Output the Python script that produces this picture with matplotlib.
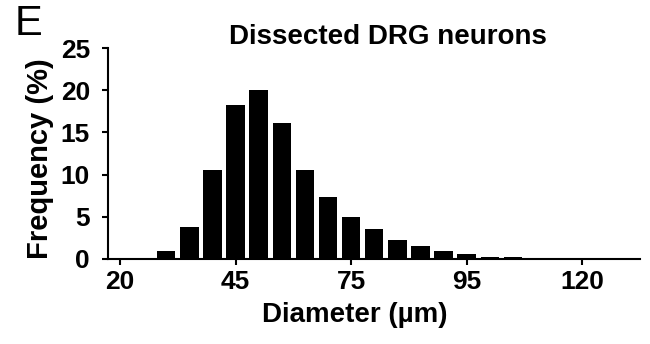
import matplotlib
matplotlib.use("Agg")
import matplotlib.pyplot as plt
import numpy as np

plt.rcParams['font.family'] = ['Liberation Sans', 'DejaVu Sans']

# histogram of soma diameters, one bar per bin
freq = [0.0, 0.15, 0.95, 3.76, 10.6, 18.3, 20.05, 16.1, 10.5, 7.3, 5.0,
        3.57, 2.22, 1.5, 0.9, 0.63, 0.24, 0.24, 0.13, 0.03, 0.03, 0.16]
tick_pos = [0, 5, 10, 15, 20]
tick_labels = ['20', '45', '75', '95', '120']
y_ticks = [0, 5, 10, 15, 20, 25]

fig = plt.figure(figsize=(6.5, 3.44), dpi=100)
ax = fig.add_axes([108 / 650, 1 - 259 / 344, 532 / 650, 211 / 344])

x = np.arange(len(freq))
ax.bar(x, freq, width=0.8, color='black', edgecolor='none')

ax.set_xlim(-0.52, 22.5)
ax.set_ylim(0, 25)
ax.set_xticks(tick_pos)
ax.set_xticklabels(tick_labels)
ax.set_yticks(y_ticks)

for side in ['top', 'right']:
    ax.spines[side].set_visible(False)
for side in ['left', 'bottom']:
    ax.spines[side].set_linewidth(1.5)

ax.tick_params(axis='both', width=1.5, length=4, labelsize=19)
ax.tick_params(axis='x', pad=4)
ax.tick_params(axis='y', pad=9)
for lab in ax.get_xticklabels() + ax.get_yticklabels():
    lab.set_fontweight('bold')

fig.text(40 / 650, 1 - 159 / 344, 'Frequency (%)', rotation=90, ha='center', va='center',
         fontsize=21, fontweight='bold')
fig.text(355 / 650, 1 - 315 / 344, 'Diameter (\u00b5m)', ha='center', va='center',
         fontsize=20, fontweight='bold')
fig.text(388 / 650, 1 - 37 / 344, 'Dissected DRG neurons', ha='center', va='center',
         fontsize=20, fontweight='bold')
fig.text(15 / 650, 1 - 24 / 344, 'E', ha='left', va='center', fontsize=30)

fig.savefig('out.png', dpi=100)
